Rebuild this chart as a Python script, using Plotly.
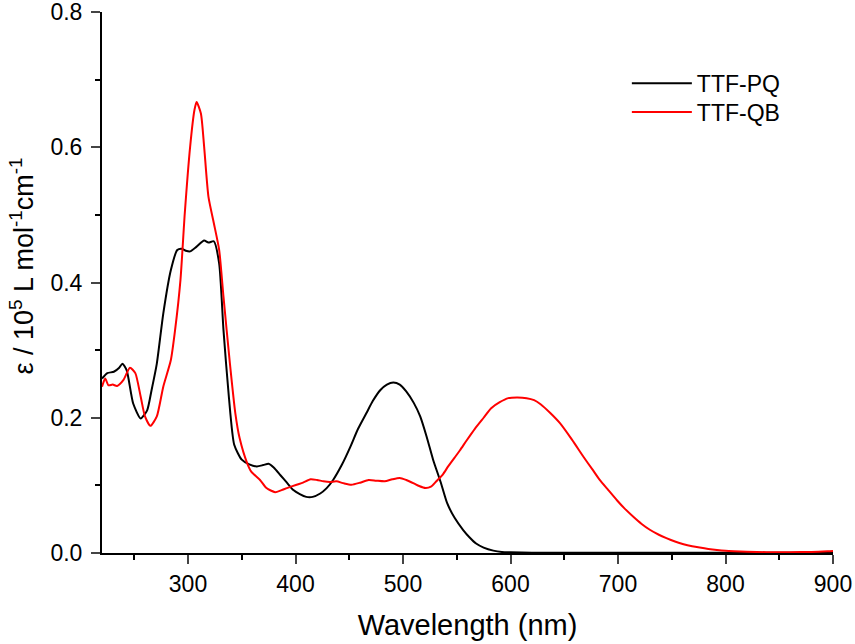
import plotly.graph_objects as go

# TTF-PQ absorption
pq_wl = [220, 225, 231, 236, 239, 243, 249, 256, 262, 266, 271, 277, 284, 290, 294, 298, 302,
         308, 315, 319, 324, 329, 333, 338, 343, 350, 357, 364, 370, 375, 380, 386, 392, 398, 404,
         410, 416, 423, 429, 435, 443, 451, 458, 466, 472, 479, 485, 491, 497, 503, 510, 516, 522,
         528, 535, 541, 548, 556, 562, 568, 575, 584, 592, 600, 620, 650, 700, 750, 800, 850, 900]
pq_eps = [0.258, 0.266, 0.268, 0.274, 0.280, 0.270, 0.221, 0.199, 0.211, 0.240, 0.280, 0.354, 0.418,
          0.448, 0.450, 0.447, 0.446, 0.453, 0.462, 0.459, 0.461, 0.428, 0.330, 0.231, 0.160, 0.138,
          0.131, 0.128, 0.130, 0.132, 0.126, 0.115, 0.104, 0.093, 0.087, 0.083, 0.083, 0.088, 0.096,
          0.108, 0.130, 0.157, 0.183, 0.207, 0.225, 0.241, 0.249, 0.252, 0.249, 0.239, 0.222, 0.202,
          0.172, 0.138, 0.105, 0.074, 0.052, 0.034, 0.023, 0.014, 0.008, 0.0035, 0.0015, 0.001,
          0.0005, 0.0003, 0.0002, 0.0002, 0.0002, 0.0002, 0.0002]

# TTF-QB absorption
qb_wl = [220, 223, 226, 230, 234, 240, 246, 251, 256, 260, 265, 271, 277, 284, 288, 293, 297, 302,
         306, 308, 312, 315, 319, 324, 329, 333, 339, 344, 348, 355, 359, 367, 373, 381, 387, 392,
         401, 407, 414, 420, 426, 432, 438, 445, 452, 460, 468, 475, 483, 490, 497, 503, 510, 515,
         521, 526, 531, 537, 542, 548, 553, 559, 567, 575, 582, 590, 598, 606, 615, 622, 628, 637,
         646, 657, 668, 676, 683, 691, 699, 706, 714, 722, 730, 738, 745, 753, 761, 769, 776, 784,
         792, 800, 808, 820, 838, 860, 880, 895, 900]
qb_eps = [0.246, 0.258, 0.248, 0.249, 0.247, 0.256, 0.274, 0.266, 0.231, 0.202, 0.188, 0.202, 0.246,
          0.285, 0.330, 0.404, 0.502, 0.601, 0.655, 0.667, 0.650, 0.601, 0.527, 0.488, 0.448, 0.379,
          0.280, 0.207, 0.170, 0.133, 0.120, 0.108, 0.096, 0.090, 0.093, 0.096, 0.101, 0.104, 0.109,
          0.108, 0.106, 0.105, 0.106, 0.103, 0.101, 0.104, 0.108, 0.107, 0.106, 0.109, 0.111, 0.108,
          0.103, 0.099, 0.096, 0.098, 0.106, 0.116, 0.128, 0.141, 0.152, 0.166, 0.184, 0.200, 0.214,
          0.223, 0.229, 0.230, 0.229, 0.226, 0.220, 0.207, 0.192, 0.168, 0.142, 0.124, 0.108, 0.093,
          0.078, 0.066, 0.054, 0.043, 0.034, 0.027, 0.022, 0.017, 0.013, 0.010, 0.008, 0.006, 0.0044,
          0.0032, 0.0025, 0.0018, 0.0012, 0.0012, 0.0015, 0.0025, 0.003]

x_ticks = [300, 400, 500, 600, 700, 800, 900]
y_ticks = [0.0, 0.2, 0.4, 0.6, 0.8]
y_title = "ε / 10<sup>5</sup> L mol<sup>-1</sup>cm<sup>-1</sup>"

FONT = "Liberation Sans, Arial, sans-serif"

fig = go.Figure()
fig.add_trace(go.Scatter(x=pq_wl, y=pq_eps, mode="lines", name="TTF-PQ", legend="legend",
                         line=dict(color="#000000", width=2, shape="spline", smoothing=0.6)))
fig.add_trace(go.Scatter(x=qb_wl, y=qb_eps, mode="lines", name="TTF-QB", legend="legend2",
                         line=dict(color="#ff0000", width=2, shape="spline", smoothing=0.6)))

axis_font = dict(family=FONT, size=23, color="#000000")
# one legend per entry so the rows can sit as close as in the original
leg = dict(x=0.718, xanchor="left", yanchor="top", font=dict(size=23, family=FONT),
           bgcolor="rgba(0,0,0,0)", itemwidth=60)

fig.update_layout(
    width=855, height=644,
    margin=dict(l=102, r=22, t=12, b=91, autoexpand=False),
    paper_bgcolor="white", plot_bgcolor="white",
    font=dict(family=FONT, color="#000000"),
    showlegend=True,
    legend=dict(leg, y=0.908),
    legend2=dict(leg, y=0.855),
)
fig.update_xaxes(
    range=[220, 900], tickvals=x_ticks, ticks="outside", ticklen=9, tickwidth=2,
    showline=True, linewidth=2, linecolor="#000000", showgrid=False, zeroline=False,
    tickfont=axis_font, ticklabeloverflow="allow",
    minor=dict(dtick=50, tick0=250, ticks="outside", ticklen=5, tickwidth=2, tickcolor="#000000"),
    title=dict(text="Wavelength (nm)", font=dict(size=29, family=FONT), standoff=19),
)
fig.update_yaxes(
    range=[0, 0.8], tickvals=y_ticks, tickformat=".1f", ticks="outside", ticklen=9, tickwidth=2,
    showline=True, linewidth=2, linecolor="#000000", showgrid=False, zeroline=False,
    tickfont=axis_font, ticklabeloverflow="allow", ticklabelstandoff=4,
    minor=dict(dtick=0.1, ticks="outside", ticklen=5, tickwidth=2, tickcolor="#000000"),
)

# y title placed by hand, it sits a bit above the plot centre in the original
fig.add_annotation(text=y_title, xref="paper", yref="paper", x=-0.109, y=0.53,
                   xanchor="center", yanchor="middle",
                   textangle=-90, showarrow=False, font=dict(size=27, family=FONT))

fig.write_html("out.html", config={"displayModeBar": False},
               post_script="document.body.style.margin='0';")
